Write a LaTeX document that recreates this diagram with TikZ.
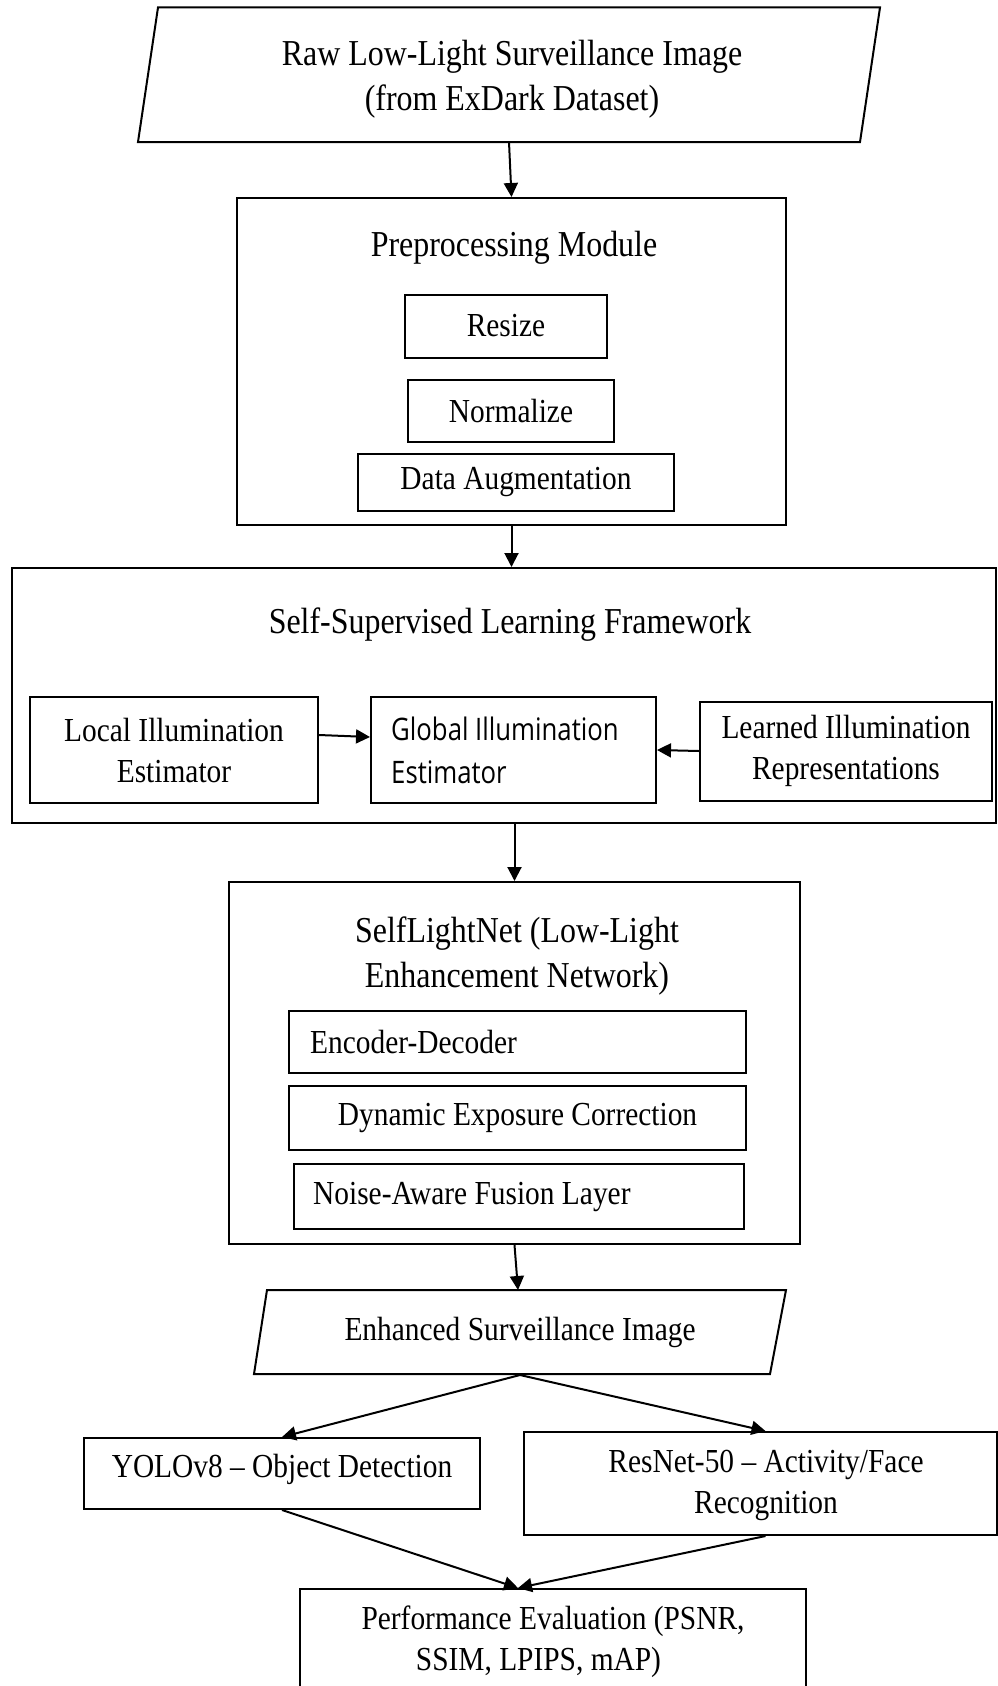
\documentclass[tikz,border=0pt]{standalone}
\usepackage{fontspec}
\setmainfont{Liberation Serif}[FakeStretch=0.875]
\newfontfamily\glfont{Open Sans}[FakeStretch=0.83]
\usetikzlibrary{arrows.meta,positioning}

\tikzset{
  box/.style={draw, line width=2pt, inner sep=0pt},
  lbl/.style={align=center, inner sep=0pt, font=\fontsize{33.6}{41}\selectfont},
  lblbig/.style={align=center, inner sep=0pt, font=\fontsize{36.5}{45}\selectfont},
  flow/.style={line width=2pt, -{Triangle[length=14pt,width=14pt]}},
}

\begin{document}
\begin{tikzpicture}[x=1pt,y=-1pt]
  \useasboundingbox (0,0) rectangle (997,1686);

  % Imagen de entrada
  \draw[line width=2pt] (158,7.5) -- (880,7.5) -- (860,142) -- (138,142) -- cycle;
  \node[lblbig] (raw) at (512,79) {Raw Low-Light Surveillance Image\\(from ExDark Dataset)};
  \coordinate (rawbot) at (509,142);

  % Preprocesamiento
  \node[box, minimum width=549pt, minimum height=327pt] (prep) at (511.5,361.5) {};
  \node[lblbig] (preptitle) at (514,248) {Preprocessing Module};
  \node[box, lbl, minimum width=202pt, minimum height=63pt] (resize) at (506,326) {Resize};
  \node[box, lbl, minimum width=206pt, minimum height=62pt] (norm) at (511,411) {Normalize};
  \node[box, lbl, minimum width=316pt, minimum height=57pt] (augm) at (516,482) {Data Augmentation};

  % Marco auto-supervisado
  \node[box, minimum width=984pt, minimum height=255pt] (ssl) at (504,695.5) {};
  \node[lblbig] (ssltitle) at (510,625) {Self-Supervised Learning Framework};
  \node[box, lbl, minimum width=288pt, minimum height=106pt] (local) at (174,750) {Local Illumination\\Estimator};
  \node[box, minimum width=285pt, minimum height=106pt] (glob) at (513.5,750) {};
  \node[align=left, inner sep=0pt, anchor=west, font=\glfont\fontsize{31}{43}\selectfont]
    (globtext) at ([xshift=21pt]glob.west) {Global Illumination\\Estimator};
  \node[box, lbl, minimum width=292pt, minimum height=99pt] (learned) at (846,751) {Learned Illumination\\Representations};

  % Red de realce
  \node[box, minimum width=571pt, minimum height=362pt] (selfnet) at (514.5,1063) {};
  \node[lblbig] (selftitle) at (517,956) {SelfLightNet (Low-Light\\Enhancement Network)};
  \node[box, minimum width=457pt, minimum height=62pt] (encdec) at (517.5,1042) {};
  \node[lbl, anchor=west] (enctext) at ([xshift=22pt]encdec.west) {Encoder-Decoder};
  \node[box, lbl, minimum width=457pt, minimum height=64pt] (dyn) at (517.5,1118) {Dynamic Exposure Correction};
  \node[box, minimum width=450pt, minimum height=65pt] (noise) at (519,1196.5) {};
  \node[lbl, anchor=west] (noisetext) at ([xshift=20pt]noise.west) {Noise-Aware Fusion Layer};

  % Imagen realzada
  \draw[line width=2pt] (267,1290) -- (786,1290) -- (770,1374) -- (254,1374) -- cycle;
  \node[lbl] (enh) at (520,1332) {Enhanced Surveillance Image};
  \coordinate (enhtop) at (518,1290);
  \coordinate (enhbot) at (520,1375);

  % Tareas de visión
  \node[box, minimum width=396pt, minimum height=71pt] (yolo) at (282,1473.5) {};
  \node[lbl] (yolotext) at ([yshift=4pt]yolo.center) {YOLOv8 -- Object Detection};
  \node[box, minimum width=473pt, minimum height=103pt] (resnet) at (760.5,1483.5) {};
  \node[lbl] (resnettext) at ([xshift=5.5pt,yshift=-2pt]resnet.center) {ResNet-50 -- Activity/Face\\Recognition};

  % Evaluación
  \node[box, minimum width=506pt, minimum height=99pt] (perf) at (553,1638.5) {};
  \node[lbl] (perftext) at ([yshift=-3pt]perf.center) {Performance Evaluation (PSNR,\\\hspace*{-29pt}SSIM, LPIPS, mAP)};
  \coordinate (perfin) at ([xshift=-35pt]perf.north);

  % Flechas
  \draw[flow] (rawbot) -- (prep.north);
  \draw[flow] (prep.south) -- (prep.south |- ssl.north);
  \draw[flow] (selfnet.north |- ssl.south) -- (selfnet.north);
  \draw[flow] ([yshift=15pt]local.east) -- ([yshift=13pt]glob.west);
  \draw[flow] (learned.west) -- (glob.east);
  \draw[flow] (selfnet.south) -- (enhtop);
  \draw[flow] (enhbot) -- (yolo.north);
  \draw[flow] (enhbot) -- ([xshift=5pt]resnet.north);
  \draw[flow] (yolo.south) -- (perfin);
  \draw[flow] ([xshift=5pt]resnet.south) -- (perfin);
\end{tikzpicture}
\end{document}
